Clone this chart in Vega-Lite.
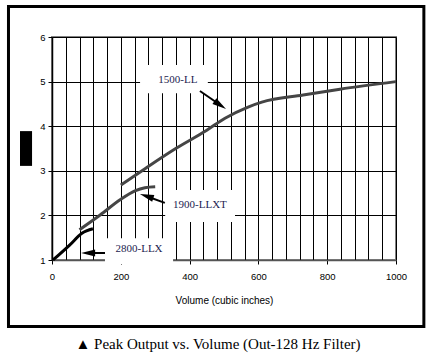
{
  "$schema": "https://vega.github.io/schema/vega-lite/v6.json",
  "width": 344,
  "height": 223,
  "autosize": {"type": "none"},
  "padding": {"left": 52, "top": 37, "right": 35, "bottom": 95},
  "background": "white",
  "config": {
    "view": {"stroke": "#808080", "strokeWidth": 2},
    "axis": {"labelFont": "Liberation Sans", "titleFont": "Liberation Sans", "labelColor": "#000", "titleColor": "#000", "labelFontSize": 9.5, "titleFontSize": 10, "titleFontWeight": "normal"}
  },
  "title": {
    "text": "▲ Peak Output vs. Volume (Out-128 Hz Filter)",
    "orient": "bottom",
    "anchor": "middle",
    "font": "Liberation Serif",
    "fontSize": 15,
    "fontWeight": "normal",
    "color": "#000",
    "offset": 9,
    "dx": -6
  },
  "datasets": {
    "frame": [{"x1": -126.5, "x2": 1081, "y1": -0.491, "y2": 6.684}],
    "redact": [{"x1": -93, "x2": -58, "y1": 3.11, "y2": 3.89}],
    "boxes": [
      {"x1": 256, "x2": 453, "y1": 4.74, "y2": 5.37},
      {"x1": 329, "x2": 532, "y1": 1.85, "y2": 2.57},
      {"x1": 154, "x2": 352, "y1": 0.91, "y2": 1.49}
    ],
    "series": [
      {"model": "1500-LL", "volume": 200, "output": 2.68},
      {"model": "1500-LL", "volume": 265, "output": 3.02},
      {"model": "1500-LL", "volume": 362, "output": 3.51},
      {"model": "1500-LL", "volume": 450, "output": 3.91},
      {"model": "1500-LL", "volume": 503, "output": 4.18},
      {"model": "1500-LL", "volume": 570, "output": 4.43},
      {"model": "1500-LL", "volume": 610, "output": 4.54},
      {"model": "1500-LL", "volume": 730, "output": 4.70},
      {"model": "1500-LL", "volume": 837, "output": 4.83},
      {"model": "1500-LL", "volume": 1000, "output": 5.0},
      {"model": "1900-LLXT", "volume": 80, "output": 1.68},
      {"model": "1900-LLXT", "volume": 140, "output": 2.01},
      {"model": "1900-LLXT", "volume": 198, "output": 2.35},
      {"model": "1900-LLXT", "volume": 241, "output": 2.55},
      {"model": "1900-LLXT", "volume": 270, "output": 2.62},
      {"model": "1900-LLXT", "volume": 300, "output": 2.64},
      {"model": "2800-LLX", "volume": 3, "output": 1.0},
      {"model": "2800-LLX", "volume": 52, "output": 1.34},
      {"model": "2800-LLX", "volume": 87, "output": 1.6},
      {"model": "2800-LLX", "volume": 119, "output": 1.70}
    ],
    "arrows": [
      {"x1": 430, "y1": 4.79, "x2": 489, "y2": 4.475, "angle": 124},
      {"x1": 328, "y1": 2.28, "x2": 275, "y2": 2.43, "angle": 288},
      {"x1": 154, "y1": 1.157, "x2": 105, "y2": 1.157, "angle": 270}
    ],
    "labels": [
      {"x": 366, "y": 5.03, "text": "1500-LL"},
      {"x": 430, "y": 2.23, "text": "1900-LLXT"},
      {"x": 253, "y": 1.247, "text": "2800-LLX"}
    ]
  },
  "layer": [
    {
      "data": {"name": "frame"},
      "mark": {"type": "rect", "fill": null, "fillOpacity": 0, "stroke": "#000", "strokeWidth": 3, "clip": false},
      "encoding": {
        "x": {"field": "x1", "type": "quantitative", "scale": {"domain": [0, 1000], "nice": false, "zero": false},
          "axis": {"values": [0,40,80,120,160,200,240,280,320,360,400,440,480,520,560,600,640,680,720,760,800,840,880,920,960,1000],
            "tickCount": 100,
            "grid": true, "gridColor": "#000", "gridWidth": 1, "gridOpacity": 1,
            "domainColor": "#555", "domainWidth": 1.5,
            "tickColor": "#000", "tickSize": 4,
            "tickOpacity": {"condition": {"test": "datum.value % 200 == 0", "value": 1}, "value": 0},
            "labelExpr": "datum.value % 200 == 0 ? datum.label : ''",
            "labelPadding": 7, "labelFlush": false, "labelOverlap": false,
            "title": "Volume (cubic inches)", "titlePadding": 15, "format": "d"}},
        "x2": {"field": "x2"},
        "y": {"field": "y1", "type": "quantitative", "scale": {"domain": [1, 6], "nice": false, "zero": false},
          "axis": {"values": [1,2,3,4,5,6], "tickCount": 100, "format": "d", "grid": true, "gridColor": "#000", "gridWidth": 1, "gridOpacity": 1,
            "domainColor": "#000", "domainWidth": 1.5, "tickColor": "#000", "tickSize": 4, "labelPadding": 3, "title": null}},
        "y2": {"field": "y2"}
      }
    },
    {
      "data": {"name": "redact"},
      "mark": {"type": "rect", "fill": "#000", "clip": false},
      "encoding": {
        "x": {"field": "x1", "type": "quantitative"},
        "x2": {"field": "x2"},
        "y": {"field": "y1", "type": "quantitative"},
        "y2": {"field": "y2"}
      }
    },
    {
      "data": {"name": "boxes"},
      "mark": {"type": "rect", "fill": "#fff", "clip": false},
      "encoding": {
        "x": {"field": "x1", "type": "quantitative"},
        "x2": {"field": "x2"},
        "y": {"field": "y1", "type": "quantitative"},
        "y2": {"field": "y2"}
      }
    },
    {
      "data": {"name": "series"},
      "mark": {"type": "line", "strokeWidth": 3, "interpolate": "monotone"},
      "encoding": {
        "x": {"field": "volume", "type": "quantitative"},
        "y": {"field": "output", "type": "quantitative"},
        "color": {"field": "model", "type": "nominal", "legend": null,
          "scale": {"domain": ["1500-LL", "1900-LLXT", "2800-LLX"], "range": ["#454545", "#454545", "#000000"]}}
      }
    },
    {
      "data": {"name": "arrows"},
      "mark": {"type": "rule", "color": "#000", "strokeWidth": 2},
      "encoding": {
        "x": {"field": "x1", "type": "quantitative"},
        "y": {"field": "y1", "type": "quantitative"},
        "x2": {"field": "x2"},
        "y2": {"field": "y2"}
      }
    },
    {
      "data": {"name": "arrows"},
      "mark": {"type": "point", "shape": "M0,-1L0.5,1L-0.5,1Z", "filled": true, "color": "#000", "opacity": 1, "size": 196},
      "encoding": {
        "x": {"field": "x2", "type": "quantitative"},
        "y": {"field": "y2", "type": "quantitative"},
        "angle": {"field": "angle", "type": "quantitative", "scale": null}
      }
    },
    {
      "data": {"name": "labels"},
      "mark": {"type": "text", "font": "Liberation Serif", "fontSize": 11, "color": "#1c1c50", "align": "center", "baseline": "middle"},
      "encoding": {
        "x": {"field": "x", "type": "quantitative"},
        "y": {"field": "y", "type": "quantitative"},
        "text": {"field": "text"}
      }
    }
  ]
}
